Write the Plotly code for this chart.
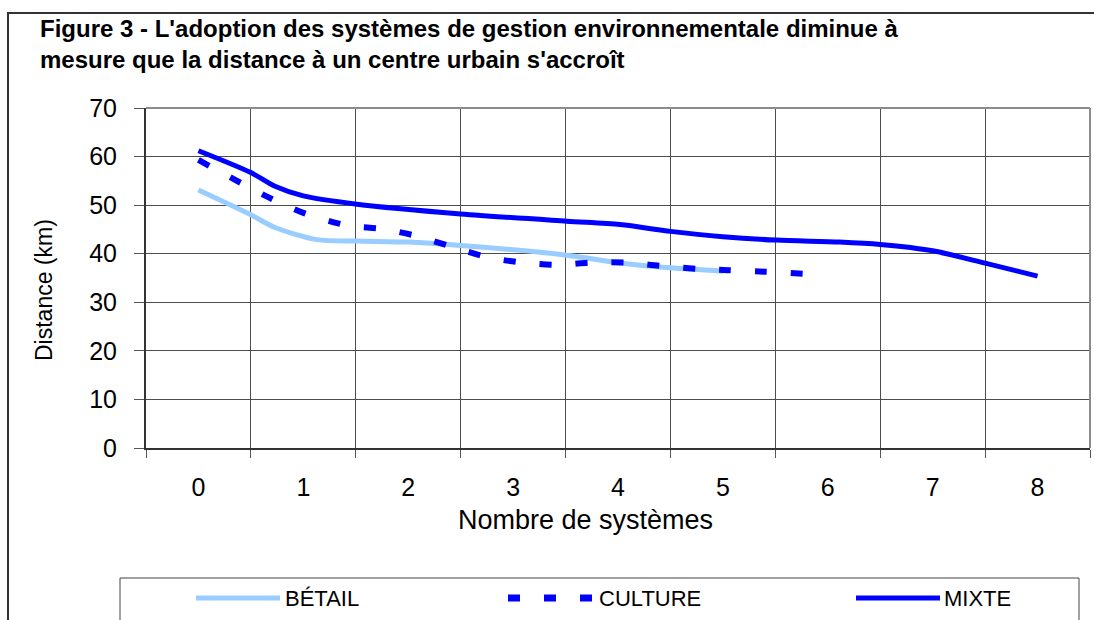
import plotly.graph_objects as go

# ---- data ----
categories = [0, 1, 2, 3, 4, 5, 6, 7, 8]

betail_x = [0, 0.5, 0.73, 1.13, 1.51, 1.99, 2.5, 3.51, 4.02, 4.5, 5.0]
betail_y = [53.1, 48.0, 45.4, 42.9, 42.6, 42.4, 41.7, 39.7, 38.1, 37.1, 36.4]

culture_x = [0, 0.35, 0.66, 1.0, 1.42, 1.75, 2.07, 2.42, 2.75, 3.08, 3.42, 3.76,
             4.07, 4.4, 4.75, 5.05, 5.4, 5.81]
culture_y = [59.3, 55.2, 51.7, 48.4, 45.8, 45.1, 43.7, 41.4, 39.3, 38.2, 37.7, 38.2,
             38.2, 37.5, 36.9, 36.6, 36.3, 35.8]

mixte_x = [0, 0.5, 0.73, 1.0, 1.51, 2.5, 3.51, 4.02, 4.5, 5.0, 5.51, 6.11, 6.5,
           7.0, 7.51, 8.0]
mixte_y = [61.2, 56.7, 53.9, 51.9, 50.2, 48.2, 46.7, 46.0, 44.6, 43.5, 42.8, 42.4,
           41.9, 40.6, 38.0, 35.4]

series_names = ["BÉTAIL", "CULTURE", "MIXTE"]
title_lines = ["Figure 3 - L'adoption des systèmes de gestion environnementale diminue à",
               "mesure que la distance à un centre urbain s'accroît"]
x_title = "Nombre de systèmes"
y_title = "Distance (km)"

# ---- layout geometry (pixels) ----
WIDTH, HEIGHT = 1094, 620
L, R, T, B = 146, 1090, 108, 448
PW, PH = R - L, B - T


def px(xp):
    return (xp - L) / PW


def py(yp):
    return (B - yp) / PH


FONT = "Arial, Liberation Sans, sans-serif"
LIGHT = "#99CCFF"
BLUE = "#0000FF"
GRID = "#4d4d4d"

fig = go.Figure()
fig.add_trace(go.Scatter(x=betail_x, y=betail_y, mode="lines", name=series_names[0],
                         line=dict(color=LIGHT, width=5, shape="spline", smoothing=0.8)))
fig.add_trace(go.Scatter(x=culture_x, y=culture_y, mode="lines", name=series_names[1],
                         line=dict(color=BLUE, width=6, dash="12px,24px",
                                   shape="spline", smoothing=0.8)))
fig.add_trace(go.Scatter(x=mixte_x, y=mixte_y, mode="lines", name=series_names[2],
                         line=dict(color=BLUE, width=5, shape="spline", smoothing=0.8)))

half = [c - 0.5 for c in categories] + [categories[-1] + 0.5]

fig.update_xaxes(range=[-0.5, 8.5], tickvals=categories, ticktext=[str(c) for c in categories],
                 ticks="", showgrid=False, zeroline=False,
                 showline=True, linecolor="#333333", linewidth=2,
                 tickfont=dict(family=FONT, size=25, color="black"),
                 ticklabelstandoff=16,
                 minor=dict(tickvals=half, ticks="outside", ticklen=8, tickcolor="#555555",
                            tickwidth=1, showgrid=True, gridcolor=GRID, gridwidth=1),
                 automargin=False, fixedrange=True)
fig.update_yaxes(range=[0, 70], dtick=10, ticks="outside", ticklen=10, tickcolor="#555555",
                 showgrid=True, gridcolor=GRID, gridwidth=1, zeroline=False,
                 showline=True, linecolor="#333333", linewidth=2,
                 tickfont=dict(family=FONT, size=25, color="black"),
                 ticklabelstandoff=12, automargin=False, fixedrange=True)

shapes = []
# top and right border of plot area (gray)
shapes.append(dict(type="line", xref="paper", yref="paper", x0=0, x1=1, y0=1, y1=1,
                   line=dict(color="#8c8c8c", width=2)))
shapes.append(dict(type="line", xref="paper", yref="paper", x0=1, x1=1, y0=0, y1=1,
                   line=dict(color="#8c8c8c", width=2)))
# outer chart frame
shapes.append(dict(type="rect", xref="paper", yref="paper", x0=px(8), x1=px(1110),
                   y0=py(640), y1=py(13), line=dict(color="#333333", width=2)))
# legend box
shapes.append(dict(type="rect", xref="paper", yref="paper", x0=px(120), x1=px(1079),
                   y0=py(640), y1=py(578), line=dict(color="#444444", width=1)))
LEG_Y = 598
shapes.append(dict(type="line", xref="paper", yref="paper", x0=px(196), x1=px(280),
                   y0=py(LEG_Y), y1=py(LEG_Y), line=dict(color=LIGHT, width=5)))
shapes.append(dict(type="line", xref="paper", yref="paper", x0=px(508), x1=px(596),
                   y0=py(LEG_Y), y1=py(LEG_Y), line=dict(color=BLUE, width=7, dash="12px,24px")))
shapes.append(dict(type="line", xref="paper", yref="paper", x0=px(856), x1=px(940),
                   y0=py(LEG_Y), y1=py(LEG_Y), line=dict(color=BLUE, width=5)))

annotations = []
annotations.append(dict(xref="paper", yref="paper", x=px(38), y=py(29), xanchor="left",
                        yanchor="middle", showarrow=False, text="<b>" + title_lines[0] + "</b>",
                        font=dict(family=FONT, size=24, color="black")))
annotations.append(dict(xref="paper", yref="paper", x=px(38), y=py(59), xanchor="left",
                        yanchor="middle", showarrow=False, text="<b>" + title_lines[1] + "</b>",
                        font=dict(family=FONT, size=24, color="black")))
annotations.append(dict(xref="paper", yref="paper", x=px(585), y=py(520), xanchor="center",
                        yanchor="middle", showarrow=False, text=x_title,
                        font=dict(family=FONT, size=27, color="black")))
annotations.append(dict(xref="paper", yref="paper", x=px(44), y=py(290), xanchor="center",
                        yanchor="middle", showarrow=False, text=y_title, textangle=-90,
                        font=dict(family=FONT, size=23, color="black")))
for name, xl in zip(series_names, [283, 597, 942]):
    annotations.append(dict(xref="paper", yref="paper", x=px(xl), y=py(LEG_Y), xanchor="left",
                            yanchor="middle", showarrow=False, text=name,
                            font=dict(family=FONT, size=22, color="black")))

fig.update_layout(width=WIDTH, height=HEIGHT,
                  margin=dict(l=L, r=WIDTH - R, t=T, b=HEIGHT - B, pad=0),
                  paper_bgcolor="white", plot_bgcolor="white",
                  showlegend=False, shapes=shapes, annotations=annotations)

fig.write_html("out.html", config={"displayModeBar": False},
               post_script="document.body.style.margin='0';document.body.style.overflow='hidden';")
